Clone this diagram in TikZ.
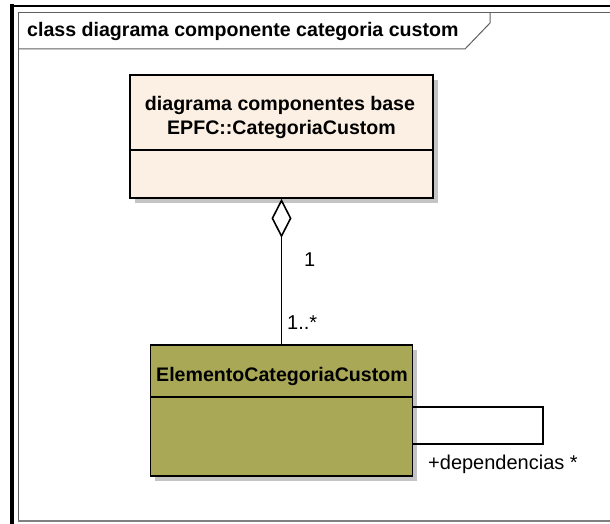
\documentclass[tikz,border=0pt]{standalone}
\usepackage{fontspec}
\setmainfont{Liberation Sans}
\usetikzlibrary{arrows.meta}
\definecolor{basefill}{HTML}{FBF0E3}
\definecolor{elemfill}{HTML}{A9A857}
\definecolor{shadowgray}{HTML}{C4C4C4}
\definecolor{framegray}{HTML}{606060}
\definecolor{framebottom}{HTML}{808080}

\begin{document}
\begin{tikzpicture}[x=1pt, y=-1pt,
  classbox/.style={draw=black, line width=1.6pt, rectangle, inner sep=0pt},
  boxshadow/.style={fill=shadowgray, draw=none},
  classname/.style={font=\fontsize{19.6}{22}\selectfont\bfseries, inner sep=0pt, anchor=base},
  framelabel/.style={font=\fontsize{19.6}{22}\selectfont\bfseries, inner sep=0pt, anchor=base west},
  rolelabel/.style={font=\fontsize{20}{22}\selectfont, inner sep=0pt},
  connector/.style={draw=black, line width=1.6pt}
]
% canvas
\useasboundingbox (0,0) rectangle (610,524);
\fill[white] (0,0) rectangle (610,524);

% outer window border
\draw[line width=4pt] (12,524) -- (12,4);
\draw[line width=2.5pt] (10,6) -- (610,6);

% diagram frame and its name tab
\draw[framegray, line width=1pt] (610,13) -- (18,13) -- (18,521);
\draw[framebottom, line width=2pt] (18,521) -- (610,521);
\draw[framegray, line width=1pt] (18,49) -- (465,49) -- (490,23) -- (490,13);
\node[framelabel] (frametitle) at (27,37) {class diagrama componente categoria custom};

% shadows
\fill[boxshadow] (135,80) rectangle (438,203);
\fill[boxshadow] (155,350) rectangle (417,481);

% class: diagrama componentes base EPFC::CategoriaCustom
\node[classbox, fill=basefill, minimum width=303pt, minimum height=123pt] (base) at (281.5,136.5) {};
\draw[line width=1.6pt] (130,150) -- (433,150);
\node[classname] (basename1) at (280,111) {diagrama componentes base};
\node[classname] (basename2) at (281.5,135) {EPFC::CategoriaCustom};

% class: ElementoCategoriaCustom
\node[classbox, fill=elemfill, minimum width=262pt, minimum height=131pt] (elem) at (281.5,410.5) {};
\draw[line width=1.6pt] (150,397) -- (413,397);
\node[classname] (elemname) at (282,381) {ElementoCategoriaCustom};

% aggregation
\draw[connector, {Diamond[open, length=39pt, width=20pt, fill=white]}-] (base.south) -- (base.south |- elem.north);
\node[rolelabel, anchor=west] (multone) at (304,260) {1};
\node[rolelabel, anchor=west] (multmany) at (287,323) {1..*};

% self association
\coordinate (loopa) at (543,407);
\coordinate (loopb) at (543,444);
\draw[connector] (elem.east |- loopa) -- (loopa) -- (loopb) -- (elem.east |- loopb);
\node[rolelabel, anchor=west] (deps) at (428,464) {+dependencias *};
\end{tikzpicture}
\end{document}
